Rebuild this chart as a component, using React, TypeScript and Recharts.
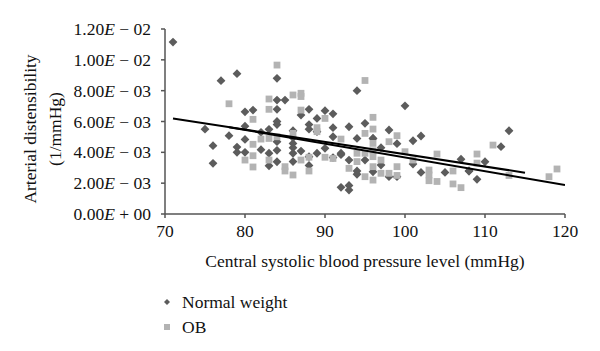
import React from 'react';
import { ScatterChart, Scatter, XAxis, YAxis } from 'recharts';

// Central systolic BP (mmHg)
const normalX = [71,77,79,75,76,76,78,79,79,80,80,80,80,81,82,82,83,83,83,84,84,84,84,84,84,84,84,85,86,86,86,86,86,86,87,87,88,88,88,88,88,89,89,89,90,90,91,91,91,91,92,92,92,93,93,93,93,94,94,94,94,95,95,96,96,96,97,97,98,98,99,99,100,101,101,102,102,105,107,108,108,109,110,112,113,115];
// Arterial distensibility (x 1e-3 1/mmHg)
const normalY = [11.15,8.65,9.1,5.5,4.43,3.29,5.08,4.34,4.0,6.63,5.7,4.84,4.0,6.74,5.3,4.17,5.49,3.94,3.13,8.8,7.39,6.79,6.0,5.8,4.69,4.13,3.39,7.39,5.4,4.58,4.3,3.94,3.4,4.95,4.08,6.42,5.8,5.5,3.72,3.15,6.79,6.2,3.94,5.34,4.26,6.7,6.5,5.01,3.66,5.6,3.85,1.73,3.94,3.5,1.85,1.55,5.66,4.9,2.79,2.58,8.0,3.5,5.88,4.9,2.74,4.9,4.3,3.18,2.42,5.45,4.56,2.42,7.02,4.75,3.24,2.7,5.06,2.7,3.55,2.79,2.79,2.25,3.39,4.37,5.4];

const obX = [78,80,81,81,81,81,82,83,83,83,83,84,84,85,85,86,86,86,87,87,87,87,88,88,89,89,90,90,91,92,93,94,94,95,95,95,95,96,96,96,96,96,96,96,97,97,98,98,99,99,99,100,101,103,103,103,104,104,106,106,107,109,109,111,113,118,119];
const obY = [7.15,3.5,6.14,4.52,3.78,3.05,4.86,7.46,6.79,4.9,3.5,9.66,5.01,3.07,2.79,7.72,5.23,2.53,7.83,7.62,6.74,3.5,3.68,2.79,5.6,5.34,6.2,3.68,3.6,4.86,2.96,3.94,3.4,8.66,5.23,3.94,2.42,6.27,5.51,4.58,4.1,3.72,3.07,2.2,3.5,2.64,4.69,2.64,5.08,3.07,2.5,4.04,3.5,2.85,2.53,2.16,3.89,2.11,2.79,1.95,1.71,3.89,3.3,4.47,2.5,2.42,2.92];

// Linear trend lines (end points)
const normalTrendX = [71, 115];
const normalTrendY = [6.2, 2.68];
const obTrendX = [78, 120];
const obTrendY = [5.63, 1.88];

const xTicks = [70, 80, 90, 100, 110, 120];
const yTicks = [0, 0.002, 0.004, 0.006, 0.008, 0.01, 0.012];

const seriesNames = ['Normal weight', 'OB'];

const toPts = (xs: number[], ys: number[]) => xs.map((x, i) => ({ x, y: ys[i] * 1e-3 }));
const normalData = toPts(normalX, normalY);
const obData = toPts(obX, obY);
const normalTrend = toPts(normalTrendX, normalTrendY);
const obTrend = toPts(obTrendX, obTrendY);

const FONT = '"Liberation Serif", "Times New Roman", serif';
const FS = 17.5;
const AXIS = '#555555';
const DARK = '#5c5c5c';
const LIGHT = '#b3b3b3';

const Diamond = (p: any) => {
  const { cx, cy } = p;
  if (cx == null || cy == null) return <g />;
  const r = 4.4;
  return <polygon points={`${cx},${cy - r} ${cx + r},${cy} ${cx},${cy + r} ${cx - r},${cy}`} fill={DARK} />;
};
const Square = (p: any) => {
  const { cx, cy } = p;
  if (cx == null || cy == null) return <g />;
  const s = 6.8;
  return <rect x={cx - s / 2} y={cy - s / 2} width={s} height={s} fill={LIGHT} />;
};
const NoShape = () => <g />;

const fmtSci = (v: number) => {
  if (v === 0) return { m: '0.00', s: '+', e: '00' };
  const e = Math.floor(Math.log10(v) + 1e-9);
  const m = (v / Math.pow(10, e)).toFixed(2);
  return { m, s: e < 0 ? '\u2212' : '+', e: String(Math.abs(e)).padStart(2, '0') };
};

const YTick = (p: any) => {
  const { x, y, payload } = p;
  const f = fmtSci(payload.value);
  return (
    <text x={x} y={y} dy="0.35em" textAnchor="end" fontFamily={FONT} fontSize={FS} fill="#111">
      {f.m}
      <tspan fontStyle="italic">E</tspan>
      {` ${f.s} ${f.e}`}
    </text>
  );
};

const XTick = (p: any) => {
  const { x, y, payload } = p;
  return (
    <text x={x} y={y} dy="0.71em" textAnchor="middle" fontFamily={FONT} fontSize={FS} fill="#111">
      {payload.value}
    </text>
  );
};

const XTitle = (p: any) => {
  const vb = p.viewBox || {};
  return (
    <text x={vb.x + vb.width / 2} y={vb.y + 53} textAnchor="middle" fontFamily={FONT} fontSize={FS} fill="#111">
      Central systolic blood pressure level (mmHg)
    </text>
  );
};

const YTitle = () => {
  return (
    <g fontFamily={FONT} fontSize={FS} fill="#111">
      <text transform="translate(22,121) rotate(-90)" textAnchor="middle" dominantBaseline="central">
        Arterial distensibility
      </text>
      <text transform="translate(47,121) rotate(-90)" textAnchor="middle" dominantBaseline="central">
        (1/mmHg)
      </text>
    </g>
  );
};

const W = 584;
const H = 335;

export default function App() {
  return (
    <div style={{ position: 'relative', width: W, height: H, background: '#fff' }}>
      <ScatterChart width={W} height={H} margin={{ top: 21, right: 27, bottom: 69, left: 67 }}>
        <XAxis
          type="number"
          dataKey="x"
          domain={[70, 120]}
          ticks={xTicks}
          allowDataOverflow
          height={60}
          tick={<XTick />}
          tickSize={4}
          tickMargin={7}
          stroke={AXIS}
          strokeWidth={1.5}
          label={<XTitle />}
        />
        <YAxis
          type="number"
          dataKey="y"
          domain={[0, 0.012]}
          ticks={yTicks}
          width={90}
          tick={<YTick />}
          tickSize={4}
          tickMargin={10}
          stroke={AXIS}
          strokeWidth={1.5}
          label={<YTitle />}
        />
        <Scatter name={seriesNames[0]} data={normalData} shape={<Diamond />} isAnimationActive={false} />
        <Scatter name={seriesNames[1]} data={obData} shape={<Square />} isAnimationActive={false} />
        <Scatter
          data={normalTrend}
          shape={<NoShape />}
          line={{ stroke: '#000', strokeWidth: 2 }}
          stroke="#000"
          strokeWidth={2}
          isAnimationActive={false}
          legendType="none"
        />
        <Scatter
          data={obTrend}
          shape={<NoShape />}
          line={{ stroke: '#000', strokeWidth: 2 }}
          stroke="#000"
          strokeWidth={2}
          isAnimationActive={false}
          legendType="none"
        />
      </ScatterChart>
      <div
        style={{
          position: 'absolute',
          left: 153,
          top: 281,
          fontFamily: FONT,
          fontSize: FS,
          color: '#111',
          lineHeight: '24px',
        }}
      >
        <div style={{ display: 'flex', alignItems: 'center', height: 25 }}>
          <svg width={12} height={12} style={{ marginRight: 9 }}>
            <polygon points="6,3 9,6 6,9 3,6" fill={DARK} />
          </svg>
          <span>{seriesNames[0]}</span>
        </div>
        <div style={{ display: 'flex', alignItems: 'center', height: 25 }}>
          <svg width={12} height={12} style={{ marginRight: 9 }}>
            <rect x={3} y={3} width={6} height={6} fill={LIGHT} />
          </svg>
          <span>{seriesNames[1]}</span>
        </div>
      </div>
    </div>
  );
}
